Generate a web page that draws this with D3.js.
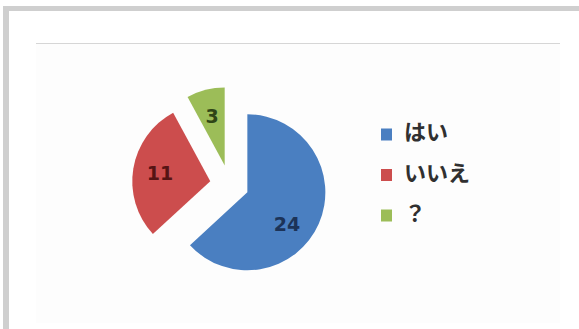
<!DOCTYPE html>
<html>
<head>
<meta charset="utf-8">
<script src="https://cdn.jsdelivr.net/npm/d3@7"></script>
<style>
  html, body { margin: 0; padding: 0; background: #ffffff; }
  svg { display: block; }
</style>
</head>
<body>
<script>
// Survey answers: はい / いいえ / ？
const categories = ["はい", "いいえ", "？"];
const counts = [24, 11, 3];
const sliceColors = ["#4a7fc1", "#cc4d4d", "#9cbd58"];
const labelColors = ["#1c3358", "#561414", "#2f4516"];

const W = 579, H = 329;
const svg = d3.select("body").append("svg")
  .attr("width", W).attr("height", H);

// outer frame (grey bands along top and left)
svg.append("rect").attr("x", 3).attr("y", 6).attr("width", W - 3).attr("height", 5).attr("fill", "#cfcfcf");
svg.append("rect").attr("x", 3).attr("y", 6).attr("width", 6).attr("height", H - 6).attr("fill", "#cfcfcf");

// chart area
svg.append("rect").attr("x", 36).attr("y", 44).attr("width", 524).attr("height", 279).attr("fill", "#fdfdfd");
svg.append("line").attr("x1", 36).attr("x2", 560).attr("y1", 43.5).attr("y2", 43.5)
  .attr("stroke", "#d6d6d6").attr("stroke-width", 1.2);

// pie, every slice pulled out from the centre
const cx = 229.5, cy = 184.5, radius = 78, explode = 19.5;
const pie = d3.pie().sort(null).value(d => d)(counts);
const arc = d3.arc().innerRadius(0).outerRadius(radius);
const labelR = 51;

const g = svg.append("g").attr("transform", `translate(${cx},${cy})`);
const slices = g.selectAll("g.slice").data(pie).join("g")
  .attr("class", "slice")
  .attr("transform", d => {
    const mid = (d.startAngle + d.endAngle) / 2;
    return `translate(${Math.sin(mid) * explode},${-Math.cos(mid) * explode})`;
  });

slices.append("path")
  .attr("d", arc)
  .attr("fill", (d, i) => sliceColors[i]);

// value labels; the large slice's label sits a little lower, toward its bulk
slices.append("text")
  .attr("transform", d => {
    let mid = (d.startAngle + d.endAngle) / 2;
    if (d.endAngle - d.startAngle > Math.PI) mid += 0.27;
    return `translate(${Math.sin(mid) * labelR},${-Math.cos(mid) * labelR})`;
  })
  .attr("text-anchor", "middle")
  .attr("dy", "0.36em")
  .attr("font-family", "'DejaVu Sans', sans-serif")
  .attr("font-weight", 700)
  .attr("font-size", 19)
  .attr("fill", (d, i) => labelColors[i])
  .text(d => d.data);

// legend
const legend = svg.append("g").attr("transform", "translate(381,134.5)");
const rows = legend.selectAll("g").data(categories).join("g")
  .attr("transform", (d, i) => `translate(0,${i * 40.5})`);
rows.append("rect")
  .attr("x", 0).attr("y", -6).attr("width", 11).attr("height", 12)
  .attr("fill", (d, i) => sliceColors[i]);
rows.append("text")
  .attr("x", 23).attr("y", -2)
  .attr("dy", "0.36em")
  .attr("font-family", "'Noto Sans CJK JP', sans-serif")
  .attr("font-weight", 700)
  .attr("font-size", 22)
  .attr("fill", "#303030")
  .text(d => d);
</script>
</body>
</html>
